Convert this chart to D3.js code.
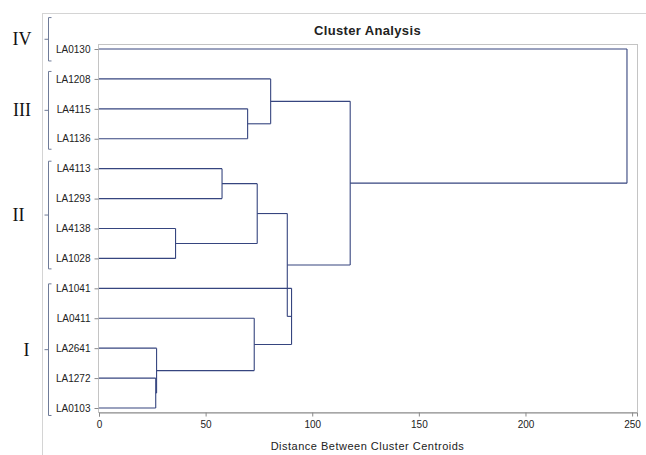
<!DOCTYPE html>
<html>
<head>
<meta charset="UTF-8">
<title>Cluster Analysis</title>
<script src="https://d3js.org/d3.v7.min.js"></script>
<style>
    body { margin: 0; background: #fff; }
    svg { display: block; }
    text { font-family: "Liberation Sans", Arial, sans-serif; fill: #222; }
    text.numeral { font-family: "Liberation Serif", "Times New Roman", serif; fill: #111; }
</style>
</head>
<body>
<svg width="646" height="455"></svg>
<script>
    // leaves, top to bottom
    const leaves = ["LA0130", "LA1208", "LA4115", "LA1136", "LA4113", "LA1293", "LA4138",
        "LA1028", "LA1041", "LA0411", "LA2641", "LA1272", "LA0103"];

    // joins: [id, left child, right child, distance]
    const joinIds = ["C1", "C2", "C3", "C4", "C5", "C6", "C7", "C8", "C9", "C10", "C11", "C12"];
    const joinLeft = ["LA4115", "LA1208", "LA4113", "LA4138", "C3", "LA1272", "LA2641", "LA0411", "LA1041", "C5", "C2", "LA0130"];
    const joinRight = ["LA1136", "C1", "LA1293", "LA1028", "C4", "LA0103", "C6", "C7", "C8", "C9", "C10", "C11"];
    const joinDist = [69.7, 80.5, 57.7, 35.9, 74.2, 26.6, 27.0, 72.8, 90.3, 88.3, 117.8, 247.6];

    const xTicks = [0, 50, 100, 150, 200, 250];

    // cluster groups drawn as brackets on the left (span in leaf steps)
    const groupLabels = ["IV", "III", "II", "I"];
    const groupSpanTop = [-1.05, 0.75, 3.75, 7.85];
    const groupSpanBottom = [0.4, 3.35, 7.35, 12.25];

    const svg = d3.select("svg");
    const frame = {left: 98, right: 637, top: 44, bottom: 412};

    const x = d3.scaleLinear().domain([0, 252.3]).range([99, 637]);
    const y = d3.scalePoint().domain(leaves).range([49, 408]);
    const step = y.step();

    // page borders
    svg.append("line").attr("x1", 42).attr("x2", 646).attr("y1", 13.5).attr("y2", 13.5)
        .attr("stroke", "#d4d4d4");
    svg.append("line").attr("x1", 42.5).attr("x2", 42.5).attr("y1", 13).attr("y2", 455)
        .attr("stroke", "#d4d4d4");

    // plot frame
    svg.append("rect")
        .attr("x", frame.left + 0.5).attr("y", frame.top + 0.5)
        .attr("width", frame.right - frame.left).attr("height", frame.bottom - frame.top)
        .attr("fill", "none").attr("stroke", "#c4c4c4");

    svg.append("text")
        .attr("x", (frame.left + frame.right) / 2).attr("y", 35)
        .attr("text-anchor", "middle")
        .attr("font-size", "13px").attr("font-weight", "bold")
        .attr("letter-spacing", "0.35px")
        .text("Cluster Analysis");

    // x axis
    const xAxis = svg.append("g")
        .attr("transform", `translate(0,${frame.bottom + 0.5})`)
        .call(d3.axisBottom(x).tickValues(xTicks).tickSize(4).tickPadding(4));
    xAxis.select(".domain").attr("stroke", "#8a8a8a");
    xAxis.selectAll(".tick line").attr("stroke", "#8a8a8a");
    xAxis.selectAll("text").attr("font-size", "10px").attr("fill", "#222")
        .attr("font-family", "Liberation Sans, Arial, sans-serif");

    svg.append("text")
        .attr("x", (frame.left + frame.right) / 2).attr("y", 450)
        .attr("text-anchor", "middle")
        .attr("font-size", "11px").attr("letter-spacing", "0.5px")
        .text("Distance Between Cluster Centroids");

    // y axis with leaf labels
    const yAxis = svg.append("g")
        .attr("transform", `translate(${frame.left + 0.5},0)`)
        .call(d3.axisLeft(y).tickSize(4).tickPadding(4));
    yAxis.select(".domain").remove();
    yAxis.selectAll(".tick line").attr("stroke", "#8a8a8a");
    yAxis.selectAll("text").attr("font-size", "10px").attr("fill", "#222")
        .attr("font-family", "Liberation Sans, Arial, sans-serif");

    // dendrogram layout
    const nodes = {};
    leaves.forEach(d => { nodes[d] = {y: y(d), h: 0}; });
    const segs = [];
    joinIds.forEach((id, i) => {
        const a = nodes[joinLeft[i]], b = nodes[joinRight[i]], h = joinDist[i];
        segs.push([x(a.h), a.y, x(h), a.y]);
        segs.push([x(b.h), b.y, x(h), b.y]);
        segs.push([x(h), a.y, x(h), b.y]);
        nodes[id] = {y: (a.y + b.y) / 2, h: h};
    });

    svg.append("g")
        .attr("stroke", "#36457f").attr("stroke-width", 1.1)
        .selectAll("line").data(segs).join("line")
        .attr("x1", d => d[0]).attr("y1", d => d[1])
        .attr("x2", d => d[2]).attr("y2", d => d[3]);

    // brackets with roman numerals
    const numeralX = [22, 22, 18.5, 26.5];
    const bx = 48.5;
    groupLabels.forEach((lab, i) => {
        const top = y.range()[0] + groupSpanTop[i] * step;
        const bot = y.range()[0] + groupSpanBottom[i] * step;
        const mid = (top + bot) / 2;
        svg.append("path")
            .attr("d", `M${bx + 3},${top} H${bx} V${bot} H${bx + 3} M${bx},${mid} H${bx - 4}`)
            .attr("fill", "none").attr("stroke", "#6f7b98").attr("stroke-width", 1);
        svg.append("text")
            .attr("class", "numeral")
            .attr("x", numeralX[i]).attr("y", mid + 6)
            .attr("text-anchor", "middle")
            .attr("font-size", "18px")
            .text(lab);
    });
</script>
</body>
</html>
